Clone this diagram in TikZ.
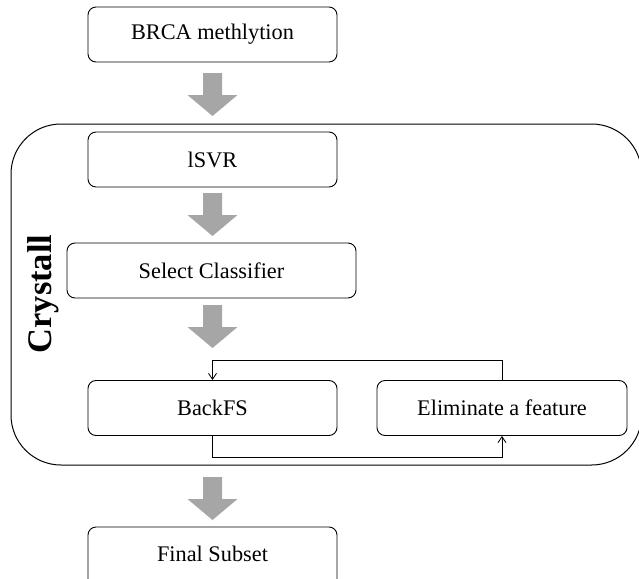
\documentclass[tikz,border=0pt]{standalone}
\usepackage{fontspec}
\setmainfont{Liberation Serif}
\usetikzlibrary{arrows.meta}
\definecolor{arrgrey}{HTML}{A6A6A6}
\tikzset{
  x=1pt, y=-1pt,
  procbox/.style={draw=black, line width=0.9pt, rounded corners=8pt, font=\fontsize{22.3}{25}\selectfont},
  flow/.style={line width=0.8pt, -{Straight Barb[length=6pt,width=8pt]}},
  container/.style={draw=black, line width=1pt, rounded corners=50pt},
}
\newcommand{\greyarrow}[2]{% x, top y
  \fill[arrgrey] (#1-9.5,#2) -- (#1+9.5,#2) -- (#1+9.5,#2+22) -- (#1+25,#2+22) -- (#1,#2+43) -- (#1-25,#2+22) -- (#1-9.5,#2+22) -- cycle;}
\begin{document}
\begin{tikzpicture}
\clip (0,0) rectangle (639,578);
\fill[white] (0,0) rectangle (639,578);
% container
\draw[container] (11,124) rectangle (641.6,465);
\node[rotate=90, font=\fontsize{34.5}{38}\selectfont\bfseries] (crys) at (43,294) {Crystall};
% boxes
\node[procbox, minimum width=249pt, minimum height=55pt] (brca) at (212.5,34.5) {BRCA methlytion};
\node[procbox, minimum width=249pt, minimum height=55pt] (lsvr) at (212.5,159.5) {lSVR};
\node[procbox, minimum width=289pt, minimum height=55pt] (sel) at (211.5,270.5) {Select Classifier};
\node[procbox, minimum width=249pt, minimum height=55pt] (back) at (212.5,408) {BackFS};
\node[procbox, minimum width=250pt, minimum height=55pt] (elim) at (502,408) {Eliminate a feature};
\node[procbox, minimum width=249pt, minimum height=70pt, text depth=16pt] (final) at (212.5,562) {Final Subset};
% grey arrows
\greyarrow{212.5}{73}
\greyarrow{212.5}{193}
\greyarrow{212.5}{305}
\greyarrow{212.5}{477}
% feedback loop
\coordinate (t1) at (502,360);
\coordinate (t2) at (212.5,360);
\coordinate (b1) at (212.5,457);
\coordinate (b2) at (502,457);
\draw[flow] (elim.north) -- (t1) -- (t2) -- (back.north);
\draw[flow] (back.south) -- (b1) -- (b2) -- (elim.south);
\end{tikzpicture}
\end{document}
